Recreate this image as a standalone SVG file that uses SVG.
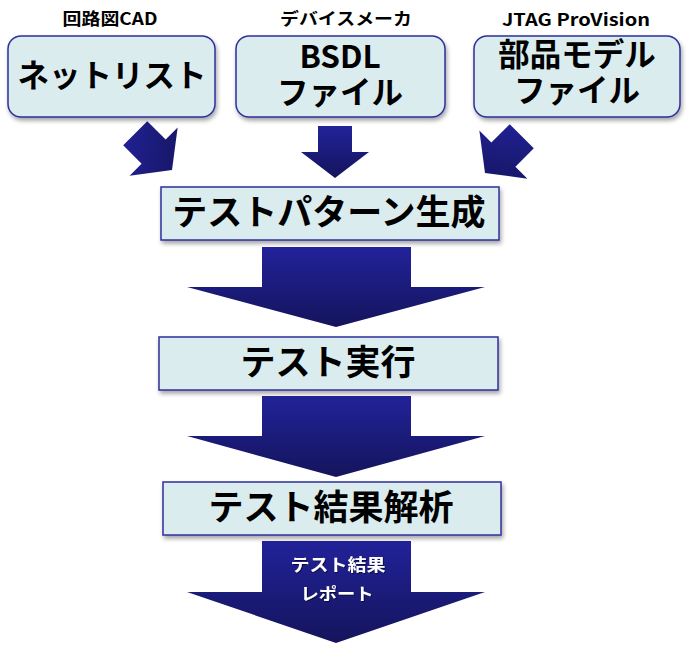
<svg xmlns="http://www.w3.org/2000/svg" width="691" height="654" viewBox="0 0 691 654">
<defs>
<linearGradient id="ag" x1="0" y1="0" x2="0" y2="1">
<stop offset="0" stop-color="#22229a"/>
<stop offset="1" stop-color="#14145c"/>
</linearGradient>
<linearGradient id="agd" x1="0" y1="0" x2="1" y2="1">
<stop offset="0" stop-color="#22229a"/>
<stop offset="1" stop-color="#14145c"/>
</linearGradient>
<filter id="sh" x="-10%" y="-10%" width="125%" height="135%">
<feDropShadow dx="1.5" dy="3" stdDeviation="2" flood-color="#000" flood-opacity="0.35"/>
</filter>
<filter id="ts" x="-10%" y="-20%" width="125%" height="150%">
<feDropShadow dx="1" dy="1" stdDeviation="0.6" flood-color="#000" flood-opacity="0.6"/>
</filter>
<path id="sarrow" d="M-17,-52 L17,-52 L17,-26 L34,-26 L0,0 L-34,-26 L-17,-26 Z"/>
</defs>
<style>
.box{fill:#daeced;stroke:#2f2f9c;stroke-width:1.5;filter:url(#sh)}
.t{font-family:"Noto Sans CJK JP","Noto Sans",sans-serif;font-weight:bold;text-anchor:middle;fill:#000}
.cap{font-size:16.5px}
.big{font-size:31.5px}
.main{font-size:35px}
.arrow{fill:url(#ag)}
.w{fill:#fff;font-size:17px;filter:url(#ts)}
</style>
<rect width="691" height="654" fill="#fff"/>

<g id="connectors">
<use href="#sarrow" fill="url(#agd)" transform="translate(172,170) rotate(-45)"/>
<use href="#sarrow" class="arrow" transform="translate(335,178)"/>
<use href="#sarrow" fill="url(#agd)" transform="translate(485,173) rotate(45)"/>
<path class="arrow" d="M262,247 L411,247 L411,287 L485,287 L336,327 L187,287 L262,287 Z"/>
<path class="arrow" d="M262,396 L411,396 L411,436 L485,436 L336,477 L187,436 L262,436 Z"/>
<path class="arrow" d="M262,541 L411,541 L411,592 L485,592 L336,643 L187,592 L262,592 Z"/>
<text class="t w" x="338" y="571" textLength="95" lengthAdjust="spacingAndGlyphs">テスト結果</text>
<text class="t w" x="337" y="600" textLength="73" lengthAdjust="spacingAndGlyphs">レポート</text>
</g>

<g id="netlist">
<text class="t cap" x="110" y="25" textLength="95" lengthAdjust="spacingAndGlyphs">回路図CAD</text>
<rect class="box" x="8" y="36" width="207" height="81" rx="13"/>
<text class="t big" x="112" y="87">ネットリスト</text>
</g>

<g id="bsdl">
<text class="t cap" x="346" y="25" textLength="132" lengthAdjust="spacingAndGlyphs">デバイスメーカ</text>
<rect class="box" x="236" y="36" width="209" height="81" rx="13"/>
<text class="t big" x="340" y="68">BSDL</text>
<text class="t big" x="340" y="104">ファイル</text>
</g>

<g id="partsmodel">
<text class="t cap" x="576" y="26" textLength="148" lengthAdjust="spacingAndGlyphs">JTAG ProVision</text>
<rect class="box" x="474" y="36" width="206" height="81" rx="13"/>
<text class="t big" x="577" y="66">部品モデル</text>
<text class="t big" x="577" y="102">ファイル</text>
</g>

<g id="patterngen">
<rect class="box" x="161" y="187" width="338" height="53"/>
<text class="t main" x="329" y="225">テストパターン生成</text>
</g>

<g id="testexec">
<rect class="box" x="159" y="337" width="339" height="53"/>
<text class="t main" x="328" y="375">テスト実行</text>
</g>

<g id="analysis">
<rect class="box" x="163" y="482" width="338" height="53"/>
<text class="t main" x="331" y="520">テスト結果解析</text>
</g>
</svg>
